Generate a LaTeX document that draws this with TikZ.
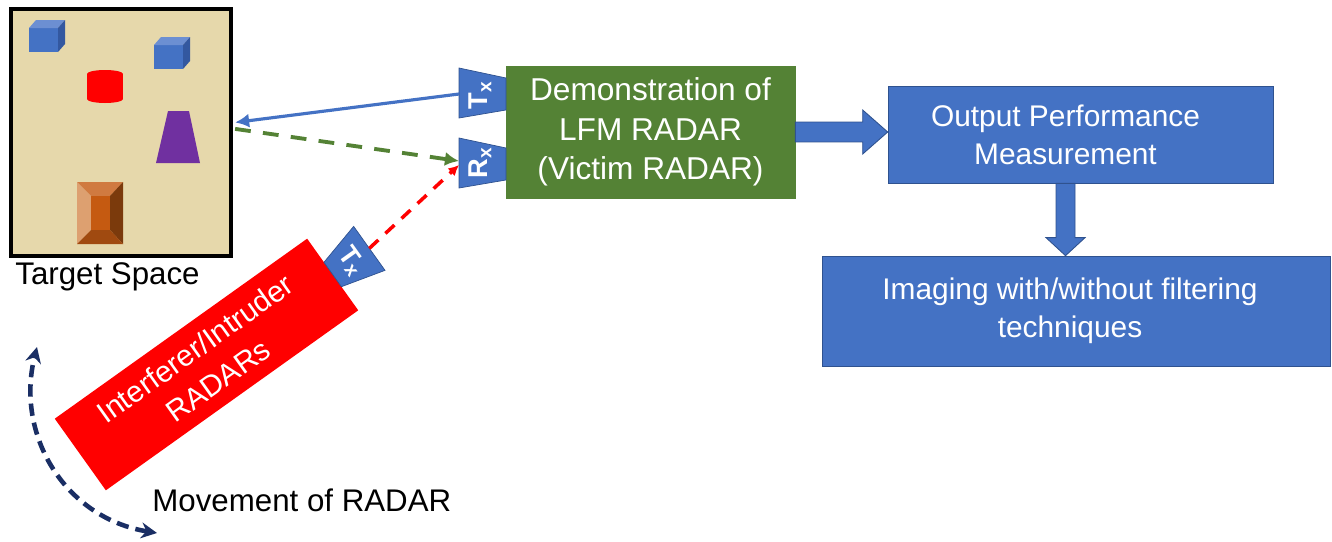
\documentclass[tikz,border=0pt]{standalone}
\usepackage{fontspec}
\setmainfont{Liberation Sans}
\usetikzlibrary{arrows.meta,positioning}

\definecolor{sand}{RGB}{230,216,171}
\definecolor{boxblue}{RGB}{68,114,196}
\definecolor{boxedge}{RGB}{47,82,143}
\definecolor{leaf}{RGB}{84,130,53}
\definecolor{plum}{RGB}{112,48,160}
\definecolor{navy}{RGB}{26,46,100}
\definecolor{cubetop}{RGB}{108,143,210}
\definecolor{cubeside}{RGB}{51,88,160}
\definecolor{rust}{RGB}{197,90,17}
\definecolor{rusttop}{RGB}{208,122,64}
\definecolor{rustleft}{RGB}{221,160,112}
\definecolor{rustright}{RGB}{123,58,12}
\definecolor{rustbottom}{RGB}{160,74,16}

\begin{document}
\begin{tikzpicture}[x=0.02cm, y=-0.02cm,
    box/.style={rectangle,draw=boxedge,fill=boxblue,text=white,align=center,inner sep=0pt,
        font=\fontsize{17}{21.5}\selectfont},
    boxtext/.style={text=white,align=center,inner sep=0pt,font=\fontsize{17}{21.5}\selectfont},
    horn/.style={fill=boxblue,draw=boxedge,line width=0.4pt},
    hornlbl/.style={text=white,inner sep=0pt,font=\fontsize{15.5}{15.5}\selectfont\bfseries},
    lbl/.style={inner sep=0pt,font=\fontsize{17.8}{21}\selectfont},
    beam/.style={line width=1.8pt,draw=boxblue,-{Latex[length=8pt,width=8pt]}},
    echo/.style={line width=2.2pt,draw=leaf,dash pattern=on 9pt off 7pt,-{Latex[length=8pt,width=8pt]}},
    jam/.style={line width=2pt,draw=red,dash pattern=on 7pt off 5.5pt,-{Latex[length=6pt,width=6pt]}},
    swing/.style={line width=2.6pt,draw=navy,dash pattern=on 7pt off 4pt,
        {Stealth[length=9pt,width=9pt]}-{Stealth[length=9pt,width=9pt]}},
    bigarrow/.style={fill=boxblue,draw=boxedge,line width=0.5pt}
]
\useasboundingbox (0,0) rectangle (1332,541);

% target space with its objects
\node[draw=black,line width=2.3pt,fill=sand,minimum width=4.4cm,minimum height=4.94cm,inner sep=0pt]
    (target) at (121,132.5) {};
\foreach \cx/\cy in {29/28,154/45} {
    \fill[boxblue] (\cx,\cy) rectangle ++(29,24);
    \fill[cubetop] (\cx,\cy) -- ++(7,-8) -- ++(29,0) -- ++(-7,8) -- cycle;
    \fill[cubeside] (\cx+29,\cy) -- ++(7,-8) -- ++(0,24) -- ++(-7,8) -- cycle;
}
\fill[red] (87,74) rectangle (123,99);
\fill[red] (105,74) ellipse [x radius=0.36cm, y radius=0.08cm];
\fill[red] (105,99) ellipse [x radius=0.36cm, y radius=0.08cm];
\fill[plum] (168,111) -- (189,111) -- (200,163) -- (156,163) -- cycle;
\fill[rusttop] (77,182) -- (123,182) -- (110,196) -- (91,196) -- cycle;
\fill[rustleft] (77,182) -- (91,196) -- (91,230) -- (77,244) -- cycle;
\fill[rustright] (123,182) -- (123,244) -- (110,230) -- (110,196) -- cycle;
\fill[rustbottom] (77,244) -- (123,244) -- (110,230) -- (91,230) -- cycle;
\fill[rust] (91,196) rectangle (110,230);
\node[lbl,anchor=west] (tslabel) at (15,277) {Target Space};

% victim radar and its antennas
\node[box,fill=leaf,draw=leaf,minimum width=5.78cm,minimum height=2.64cm,
    font=\fontsize{18}{22.4}\selectfont]
    (victim) at (650.5,132) {Demonstration of\\LFM RADAR\\(Victim RADAR)};
\draw[horn] (459,68) -- (506,78) -- (506,110) -- (459,118) -- cycle;
\node[hornlbl,rotate=90] (tx) at (480,95) {T\textsubscript{x}};
\draw[horn] (459,138) -- (506,148) -- (506,180) -- (459,188) -- cycle;
\node[hornlbl,rotate=90] (rx) at (480,163) {R\textsubscript{x}};
\coordinate (txmouth) at (459,94);
\coordinate (rxmouth) at (459,161);

% processing chain
\node[box,minimum width=7.7cm,minimum height=1.94cm] (output) at (1080.5,134.5) {};
\node[boxtext] (outtext) at ([xshift=-0.3cm]output.center) {Output Performance\\Measurement};
\node[box,minimum width=10.16cm,minimum height=2.2cm] (imaging) at (1076,311) {};
\node[boxtext] (imgtext) at ([xshift=-0.12cm]imaging.center) {Imaging with/without filtering\\techniques};

\coordinate (rtip) at (victim.east -| output.west);
\draw[bigarrow] ([yshift=0.2cm]victim.east) -- ([xshift=-0.5cm,yshift=0.2cm]rtip)
    -- ([xshift=-0.5cm,yshift=0.44cm]rtip) -- (rtip)
    -- ([xshift=-0.5cm,yshift=-0.44cm]rtip) -- ([xshift=-0.5cm,yshift=-0.2cm]rtip)
    -- ([yshift=-0.2cm]victim.east) -- cycle;
\coordinate (dstart) at ([xshift=-0.3cm]output.south);
\coordinate (dtip) at (dstart |- imaging.north);
\draw[bigarrow] ([xshift=-0.19cm]dstart) -- ([xshift=-0.19cm,yshift=0.36cm]dtip)
    -- ([xshift=-0.39cm,yshift=0.36cm]dtip) -- (dtip)
    -- ([xshift=0.39cm,yshift=0.36cm]dtip) -- ([xshift=0.19cm,yshift=0.36cm]dtip)
    -- ([xshift=0.19cm]dstart) -- cycle;

% interferer, tilted
\begin{scope}[shift={(206.5,364.5)},rotate=35.5]
    \fill[red] (-155,-44) rectangle (155,44);
    \node[boxtext,rotate=35.5,font=\fontsize{17}{22.5}\selectfont] (intruder) at (0,0)
        {Interferer/Intruder\\RADARs};
    \draw[horn] (155,-15) -- (200,-27) -- (200,27) -- (155,15) -- cycle;
    \node[hornlbl,rotate=-54.5] (itx) at (178,0) {T\textsubscript{x}};
    \coordinate (itxmouth) at (200,0);
\end{scope}

% signal paths
\draw[beam,shorten >=1.2pt] (txmouth) -- (target.5.6);
\draw[echo,shorten <=1.2pt] (target.2) -- (rxmouth);
\draw[jam] (itxmouth) -- ([yshift=-0.08cm]rxmouth);

% movement of the interferer
\coordinate (swingtop) at (37,347);
\coordinate (swingbot) at (157,533);
\draw[swing] (swingbot) .. controls (65,518) and (15,435) .. (swingtop);
\node[lbl,anchor=west] (movelabel) at (152,500) {Movement of RADAR};
\end{tikzpicture}
\end{document}
